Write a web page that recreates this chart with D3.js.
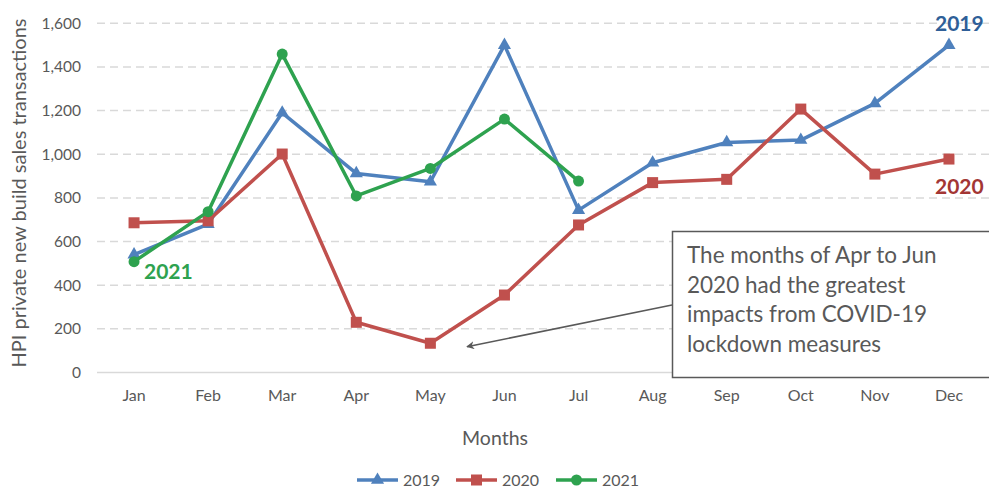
<!DOCTYPE html>
<html><head><meta charset="utf-8">
<script src="https://cdn.jsdelivr.net/npm/d3@7"></script>
<style>
html,body{margin:0;padding:0;background:#fff;}
svg{display:block;font-family:Lato,"Open Sans",sans-serif;}
</style></head>
<body>
<svg id="chart" width="989" height="489"></svg>
<script>
const months = ["Jan","Feb","Mar","Apr","May","Jun","Jul","Aug","Sep","Oct","Nov","Dec"];
const values2019 = [540,680,1190,912,874,1500,744,961,1054,1065,1233,1500];
const values2020 = [686,695,1001,230,134,355,676,870,885,1207,909,978];
const values2021 = [508,737,1459,809,935,1161,877];
const yTicks = [0,200,400,600,800,1000,1200,1400,1600];
const seriesNames = ["2019","2020","2021"];
const annotationLines = ["The months of Apr to Jun","2020 had the greatest","impacts from COVID-19","lockdown measures"];

const colors = {"2019":"#4f81bd","2020":"#c0504d","2021":"#2ea24f"};
const labelColors = {"2019":"#2f5f98","2020":"#a33634","2021":"#2ea24f"};

const svg = d3.select("#chart");
const x = d3.scaleBand().domain(months).range([97,986]);
const y = d3.scaleLinear().domain([0,1600]).range([372.5,23.3]);
const cx = m => x(m) + x.bandwidth()/2;

// gridlines
svg.append("g").selectAll("line").data(yTicks.filter(d=>d>0)).join("line")
  .attr("x1",97).attr("x2",989).attr("y1",d=>y(d)).attr("y2",d=>y(d))
  .attr("stroke","#d9d9d9").attr("stroke-width",1.5).attr("stroke-dasharray","8,5");
svg.append("line").attr("x1",97).attr("x2",989).attr("y1",y(0)).attr("y2",y(0))
  .attr("stroke","#d9d9d9").attr("stroke-width",1.5);

// y axis labels
const yAxis = d3.axisLeft(y).tickValues(yTicks).tickFormat(d3.format(",")).tickSize(0).tickPadding(0);
const gy = svg.append("g").attr("transform","translate(81,0)").call(yAxis);
gy.select(".domain").remove();
gy.selectAll("text").attr("fill","#595959").style("font-size","15.5px").style("font-family","Lato");

// x axis labels
const xAxis = d3.axisBottom(x).tickSize(0).tickPadding(0);
const gx = svg.append("g").attr("transform","translate(0,390)").call(xAxis);
gx.select(".domain").remove();
gx.selectAll("text").attr("fill","#595959").style("font-size","16px").style("font-family","Lato");

// axis titles
svg.append("text").attr("x",495).attr("y",445).attr("text-anchor","middle")
  .attr("fill","#595959").style("font-size","19.5px").text("Months");
svg.append("text").attr("transform","translate(26,193) rotate(-90)").attr("text-anchor","middle")
  .attr("fill","#595959").style("font-size","20px").text("HPI private new build sales transactions");

const data = {"2019":values2019,"2020":values2020,"2021":values2021};
const line = d3.line().x((d,i)=>cx(months[i])).y(d=>y(d));

function marker(g, name, px, py) {
  const c = colors[name];
  if (name==="2019") {
    g.append("path").attr("d", d3.symbol(d3.symbolTriangle, 75)()).attr("transform",`translate(${px},${py})`).attr("fill",c);
  } else if (name==="2020") {
    g.append("rect").attr("x",px-5.5).attr("y",py-5.5).attr("width",11).attr("height",11).attr("fill",c);
  } else {
    g.append("circle").attr("cx",px).attr("cy",py).attr("r",5.5).attr("fill",c);
  }
}

seriesNames.forEach(name=>{
  const g = svg.append("g");
  g.append("path").datum(data[name]).attr("d",line).attr("fill","none")
    .attr("stroke",colors[name]).attr("stroke-width",3.5).attr("stroke-linejoin","round");
  data[name].forEach((v,i)=>marker(g,name,cx(months[i]),y(v)));
});

// series labels
svg.append("text").attr("x",935).attr("y",31).attr("fill",labelColors["2019"]).style("font-size","21px").style("font-weight","bold").text("2019");
svg.append("text").attr("x",935).attr("y",194).attr("fill",labelColors["2020"]).style("font-size","21px").style("font-weight","bold").text("2020");
svg.append("text").attr("x",144).attr("y",279).attr("fill",labelColors["2021"]).style("font-size","21px").style("font-weight","bold").text("2021");

// annotation arrow
svg.append("defs").append("marker").attr("id","arr").attr("viewBox","0 0 10 10").attr("refX",9).attr("refY",5)
  .attr("markerWidth",8).attr("markerHeight",8).attr("orient","auto").attr("markerUnits","userSpaceOnUse")
  .append("path").attr("d","M0,0 L10,5 L0,10 L3,5 Z").attr("fill","#595959");
svg.append("line").attr("x1",672).attr("y1",305).attr("x2",467).attr("y2",346.7)
  .attr("stroke","#595959").attr("stroke-width",1.5).attr("marker-end","url(#arr)");

// annotation box
svg.append("rect").attr("x",672.5).attr("y",231.5).attr("width",330).attr("height",146)
  .attr("fill","#fff").attr("stroke","#595959").attr("stroke-width",1.5);
svg.append("g").selectAll("text").data(annotationLines).join("text")
  .attr("x",687).attr("y",(d,i)=>263+i*29.5).attr("fill","#595959").style("font-size","22.5px").text(d=>d);

// legend
const legendItems = [{name:"2019",x:357},{name:"2020",x:456},{name:"2021",x:556}];
const lg = svg.append("g");
legendItems.forEach(it=>{
  lg.append("line").attr("x1",it.x).attr("x2",it.x+41).attr("y1",480).attr("y2",480)
    .attr("stroke",colors[it.name]).attr("stroke-width",3.5);
  marker(lg,it.name,it.x+20.5,480);
  lg.append("text").attr("x",it.x+46).attr("y",486).attr("fill","#595959").style("font-size","16px").text(it.name);
});
</script>
</body></html>
